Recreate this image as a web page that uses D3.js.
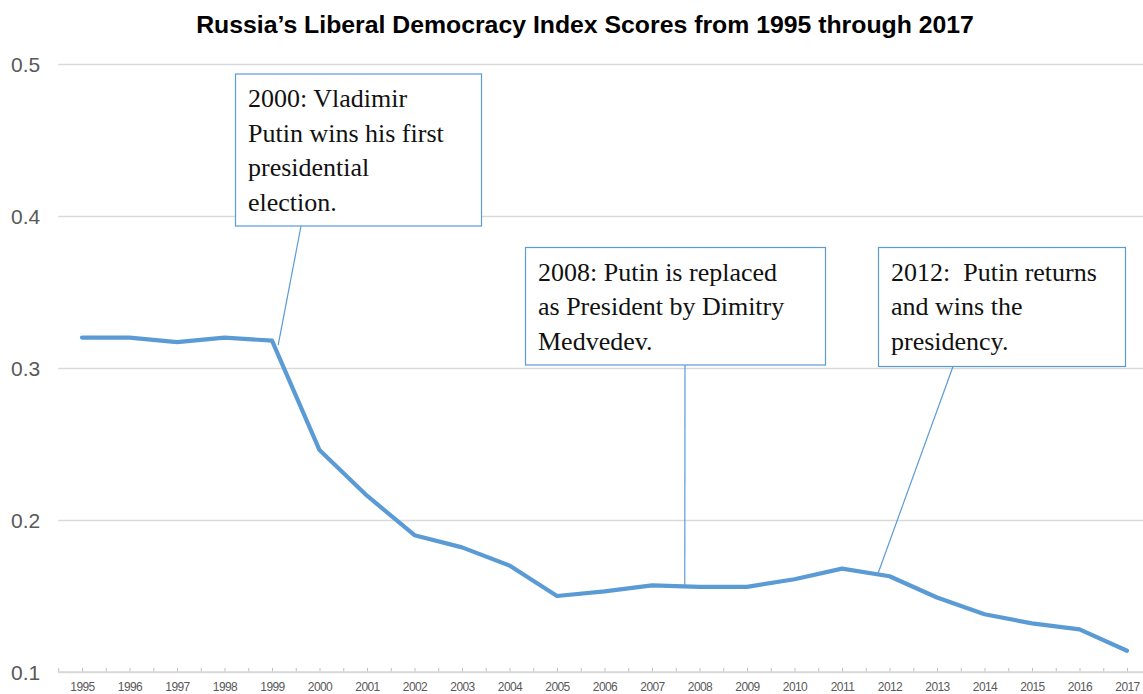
<!DOCTYPE html>
<html>
<head>
<meta charset="utf-8">
<script src="https://cdn.jsdelivr.net/npm/d3@7"></script>
<style>
  body { margin: 0; background: #fff; }
  svg { display: block; }
  .note text { font-family: "Liberation Serif", "Times New Roman", serif; font-size: 26px; fill: #111; }
</style>
</head>
<body>
<svg width="1143" height="694"></svg>
<script>
// data
var years = ["1995","1996","1997","1998","1999","2000","2001","2002","2003","2004","2005",
             "2006","2007","2008","2009","2010","2011","2012","2013","2014","2015","2016","2017"];
var scores = [0.320, 0.320, 0.317, 0.320, 0.318, 0.246, 0.216, 0.190, 0.182, 0.170, 0.150,
              0.153, 0.157, 0.156, 0.156, 0.161, 0.168, 0.163, 0.149, 0.138, 0.132, 0.128, 0.114];
var yTicks = [0.1, 0.2, 0.3, 0.4, 0.5];

var noteTexts = [
  ["2000: Vladimir", "Putin wins his first", "presidential", "election."],
  ["2008: Putin is replaced", "as President by Dimitry", "Medvedev."],
  ["2012:\u00a0 Putin returns", "and wins the", "presidency."]
];
// where each leader line touches the series (year index, score)
var noteAnchors = [[4.13, 0.315], [12.69, 0.157], [16.76, 0.165]];

var svg = d3.select("svg"),
    width = +svg.attr("width"),
    height = +svg.attr("height");

var plotLeft = 58.25, plotRight = 1150.75, plotTop = 64, plotBottom = 672;

var x = d3.scaleLinear().domain([-0.5, years.length - 0.5]).range([plotLeft, plotRight]);
var y = d3.scaleLinear().domain([0.1, 0.5]).range([plotBottom, plotTop]);

svg.append("text")
    .attr("x", 585)
    .attr("y", 33)
    .attr("text-anchor", "middle")
    .style("font-family", "'Liberation Sans', Arial, sans-serif")
    .style("font-weight", "bold")
    .style("font-size", "24.8px")
    .style("fill", "#000")
    .text("Russia\u2019s Liberal Democracy Index Scores from 1995 through 2017");

// gridlines + y labels
var yAxis = svg.append("g")
    .attr("transform", "translate(" + plotLeft + ",0)")
    .call(d3.axisLeft(y).tickValues(yTicks).tickFormat(d3.format(".1f"))
      .tickSize(-(width - plotLeft)).tickPadding(18));
yAxis.select(".domain").remove();
yAxis.selectAll("line").attr("stroke", "#d9d9d9").attr("stroke-width", 1.3);
yAxis.selectAll("text")
    .style("font-family", "'Liberation Sans', Arial, sans-serif")
    .style("font-size", "21px")
    .style("fill", "#595959")
    .attr("dy", "0.35em");

// x tick marks at category edges and centres
var tickPos = d3.range(-0.5, years.length - 0.49, 0.5);
var xTicks = svg.append("g")
    .attr("transform", "translate(0," + plotBottom + ")")
    .call(d3.axisBottom(x).tickValues(tickPos).tickSize(-4).tickFormat(""));
xTicks.select(".domain").remove();
xTicks.selectAll("line").attr("stroke", "#bfbfbf");

svg.append("line")
    .attr("x1", plotLeft).attr("x2", width)
    .attr("y1", plotBottom).attr("y2", plotBottom)
    .attr("stroke", "#d9d9d9").attr("stroke-width", 1.3);

var xLabels = svg.append("g")
    .attr("transform", "translate(0," + plotBottom + ")")
    .call(d3.axisBottom(x).tickValues(d3.range(years.length))
      .tickFormat(function(i) { return years[i]; }).tickSize(0).tickPadding(10));
xLabels.select(".domain").remove();
xLabels.selectAll("text")
    .style("font-family", "'Liberation Sans', Arial, sans-serif")
    .style("font-size", "12px")
    .style("letter-spacing", "-0.6px")
    .style("fill", "#595959");

// series
var line = d3.line()
    .x(function(d, i) { return x(i); })
    .y(function(d) { return y(d); });

svg.append("path")
    .datum(scores)
    .attr("fill", "none")
    .attr("stroke", "#5b9bd5")
    .attr("stroke-width", 4.2)
    .attr("stroke-linejoin", "round")
    .attr("stroke-linecap", "round")
    .attr("d", line);

// callout boxes (layout only)
var boxes = [
  {x: 235.5, y: 74, w: 246, h: 152, lx: 301},
  {x: 525.5, y: 247.5, w: 300, h: 117.5, lx: 685},
  {x: 878.5, y: 247.5, w: 247, h: 119, lx: 953}
];

var notes = svg.selectAll(".note")
    .data(noteTexts)
    .enter().append("g")
      .attr("class", "note");

notes.append("line")
    .attr("x1", function(d, i) { return boxes[i].lx; })
    .attr("y1", function(d, i) { return boxes[i].y + boxes[i].h; })
    .attr("x2", function(d, i) { return x(noteAnchors[i][0]); })
    .attr("y2", function(d, i) { return y(noteAnchors[i][1]); })
    .attr("stroke", "#5b9bd5")
    .attr("stroke-width", 1.2);

notes.append("rect")
    .attr("x", function(d, i) { return boxes[i].x; })
    .attr("y", function(d, i) { return boxes[i].y; })
    .attr("width", function(d, i) { return boxes[i].w; })
    .attr("height", function(d, i) { return boxes[i].h; })
    .attr("fill", "#fff")
    .attr("stroke", "#5b9bd5")
    .attr("stroke-width", 1.2);

notes.each(function(d, i) {
  var t = d3.select(this).append("text")
      .attr("x", boxes[i].x + 12.5)
      .attr("y", boxes[i].y + 33);
  t.selectAll("tspan")
    .data(d)
    .enter().append("tspan")
      .attr("x", boxes[i].x + 12.5)
      .attr("dy", function(s, j) { return j ? 34.5 : 0; })
      .text(function(s) { return s; });
});
</script>
</body>
</html>
